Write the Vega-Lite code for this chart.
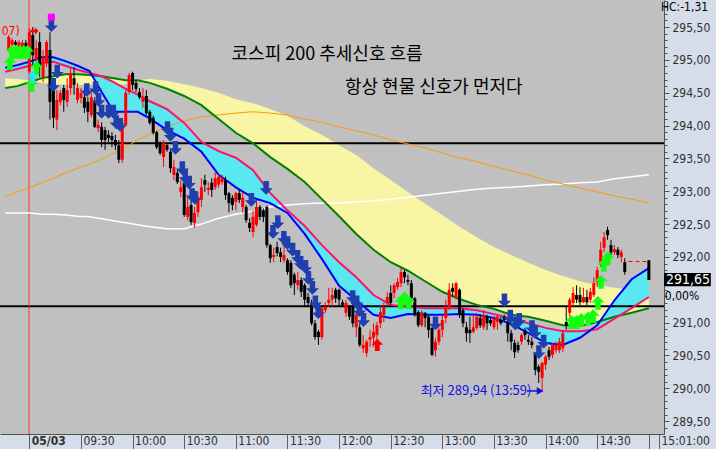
{
  "$schema": "https://vega.github.io/schema/vega-lite/v6.json",
  "width": 664,
  "height": 434,
  "autosize": {"type": "none"},
  "padding": {"left": 0, "top": 0, "right": 52, "bottom": 15},
  "background": "#d4dde9",
  "view": {"fill": "#c0c0c0", "stroke": null},
  "resolve": {"axis": {"y": "independent"}},
  "datasets": {
    "cd": [
      {"t":-12,"o":295.15,"h":295.38,"l":295.12,"c":295.35},
      {"t":-10,"o":295.23,"h":295.33,"l":295.18,"c":295.30},
      {"t":-8,"o":295.27,"h":295.30,"l":295.15,"c":295.23},
      {"t":-6,"o":295.18,"h":295.30,"l":295.12,"c":295.27},
      {"t":-4,"o":295.18,"h":295.30,"l":295.15,"c":295.26},
      {"t":-2,"o":295.26,"h":295.30,"l":295.12,"c":295.20},
      {"t":0,"o":294.82,"h":295.48,"l":294.77,"c":295.42},
      {"t":2,"o":295.38,"h":295.50,"l":294.92,"c":295.07},
      {"t":4,"o":295.00,"h":295.30,"l":294.92,"c":295.18},
      {"t":6,"o":295.27,"h":295.42,"l":294.74,"c":294.89},
      {"t":8,"o":294.74,"h":295.15,"l":294.66,"c":295.03},
      {"t":10,"o":294.95,"h":295.30,"l":294.89,"c":295.27},
      {"t":12,"o":295.15,"h":295.42,"l":294.09,"c":294.36},
      {"t":14,"o":294.62,"h":294.72,"l":293.96,"c":294.12},
      {"t":16,"o":294.09,"h":294.54,"l":293.93,"c":294.39},
      {"t":18,"o":294.36,"h":294.54,"l":294.31,"c":294.50},
      {"t":20,"o":294.57,"h":294.62,"l":294.21,"c":294.39},
      {"t":22,"o":294.36,"h":294.72,"l":294.28,"c":294.54},
      {"t":24,"o":294.57,"h":294.88,"l":294.47,"c":294.80},
      {"t":26,"o":294.72,"h":294.89,"l":294.47,"c":294.62},
      {"t":28,"o":294.39,"h":294.65,"l":294.34,"c":294.57},
      {"t":30,"o":294.42,"h":294.57,"l":294.34,"c":294.50},
      {"t":32,"o":294.43,"h":294.59,"l":294.19,"c":294.27},
      {"t":34,"o":294.36,"h":294.43,"l":294.05,"c":294.21},
      {"t":36,"o":294.16,"h":294.50,"l":294.12,"c":294.43},
      {"t":38,"o":294.36,"h":294.43,"l":293.96,"c":293.98},
      {"t":40,"o":293.96,"h":294.09,"l":293.90,"c":294.01},
      {"t":42,"o":293.98,"h":294.05,"l":293.67,"c":293.78},
      {"t":44,"o":293.93,"h":293.98,"l":293.63,"c":293.78},
      {"t":46,"o":293.86,"h":293.93,"l":293.75,"c":293.81},
      {"t":48,"o":293.84,"h":293.90,"l":293.67,"c":293.78},
      {"t":50,"o":293.78,"h":293.86,"l":293.63,"c":293.70},
      {"t":52,"o":293.70,"h":293.78,"l":293.43,"c":293.48},
      {"t":54,"o":293.48,"h":294.09,"l":293.43,"c":294.04},
      {"t":56,"o":294.01,"h":294.54,"l":293.98,"c":294.50},
      {"t":58,"o":294.51,"h":294.80,"l":294.47,"c":294.77},
      {"t":60,"o":294.80,"h":294.82,"l":294.54,"c":294.62},
      {"t":62,"o":294.65,"h":294.69,"l":294.51,"c":294.56},
      {"t":64,"o":294.51,"h":294.57,"l":294.40,"c":294.43},
      {"t":66,"o":294.36,"h":294.57,"l":294.27,"c":294.42},
      {"t":68,"o":294.45,"h":294.54,"l":294.16,"c":294.19},
      {"t":70,"o":294.21,"h":294.24,"l":294.01,"c":294.04},
      {"t":72,"o":294.12,"h":294.15,"l":293.86,"c":293.89},
      {"t":74,"o":293.90,"h":293.92,"l":293.64,"c":293.67},
      {"t":76,"o":293.73,"h":293.76,"l":293.55,"c":293.58},
      {"t":78,"o":293.52,"h":293.78,"l":293.37,"c":293.73},
      {"t":80,"o":293.70,"h":293.73,"l":293.60,"c":293.63},
      {"t":82,"o":293.60,"h":293.63,"l":293.28,"c":293.35},
      {"t":84,"o":293.25,"h":293.48,"l":293.17,"c":293.37},
      {"t":86,"o":293.28,"h":293.32,"l":293.11,"c":293.14},
      {"t":88,"o":292.99,"h":293.17,"l":292.91,"c":293.06},
      {"t":90,"o":293.13,"h":293.16,"l":292.61,"c":292.64},
      {"t":92,"o":292.61,"h":292.91,"l":292.56,"c":292.76},
      {"t":94,"o":292.79,"h":292.87,"l":292.49,"c":292.53},
      {"t":96,"o":292.52,"h":292.76,"l":292.44,"c":292.67},
      {"t":98,"o":292.68,"h":292.99,"l":292.61,"c":292.91},
      {"t":100,"o":292.87,"h":293.20,"l":292.76,"c":293.06},
      {"t":102,"o":293.17,"h":293.25,"l":292.99,"c":293.10},
      {"t":104,"o":293.02,"h":293.14,"l":292.94,"c":293.05},
      {"t":106,"o":293.13,"h":293.20,"l":292.91,"c":293.02},
      {"t":108,"o":293.06,"h":293.29,"l":293.02,"c":293.20},
      {"t":110,"o":293.10,"h":293.26,"l":293.05,"c":293.22},
      {"t":112,"o":293.14,"h":293.25,"l":293.10,"c":293.20},
      {"t":114,"o":293.17,"h":293.22,"l":292.87,"c":292.94},
      {"t":116,"o":292.97,"h":292.99,"l":292.68,"c":292.82},
      {"t":118,"o":292.90,"h":292.94,"l":292.71,"c":292.79},
      {"t":120,"o":292.84,"h":292.99,"l":292.71,"c":292.97},
      {"t":122,"o":292.97,"h":293.02,"l":292.82,"c":292.87},
      {"t":124,"o":292.76,"h":292.99,"l":292.67,"c":292.90},
      {"t":126,"o":292.76,"h":292.79,"l":292.52,"c":292.56},
      {"t":128,"o":292.52,"h":292.59,"l":292.38,"c":292.44},
      {"t":130,"o":292.38,"h":292.71,"l":292.30,"c":292.61},
      {"t":132,"o":292.49,"h":292.87,"l":292.46,"c":292.76},
      {"t":134,"o":292.76,"h":292.79,"l":292.56,"c":292.61},
      {"t":136,"o":292.71,"h":292.74,"l":292.53,"c":292.61},
      {"t":138,"o":292.76,"h":292.78,"l":292.14,"c":292.18},
      {"t":140,"o":292.18,"h":292.20,"l":291.91,"c":291.98},
      {"t":142,"o":292.00,"h":292.14,"l":291.92,"c":292.03},
      {"t":144,"o":292.15,"h":292.23,"l":292.01,"c":292.06},
      {"t":146,"o":292.07,"h":292.14,"l":291.92,"c":292.00},
      {"t":148,"o":291.95,"h":292.18,"l":291.91,"c":292.03},
      {"t":150,"o":291.95,"h":291.98,"l":291.73,"c":291.77},
      {"t":152,"o":291.91,"h":291.95,"l":291.53,"c":291.57},
      {"t":154,"o":291.73,"h":291.76,"l":291.42,"c":291.60},
      {"t":156,"o":291.57,"h":291.77,"l":291.50,"c":291.65},
      {"t":158,"o":291.65,"h":291.69,"l":291.39,"c":291.47},
      {"t":160,"o":291.57,"h":291.60,"l":291.24,"c":291.35},
      {"t":162,"o":291.39,"h":291.45,"l":291.24,"c":291.30},
      {"t":164,"o":291.30,"h":291.35,"l":290.96,"c":290.99},
      {"t":166,"o":290.99,"h":291.04,"l":290.74,"c":290.78},
      {"t":168,"o":290.86,"h":290.89,"l":290.66,"c":290.78},
      {"t":170,"o":290.78,"h":291.24,"l":290.74,"c":291.22},
      {"t":172,"o":291.19,"h":291.31,"l":291.15,"c":291.24},
      {"t":174,"o":291.30,"h":291.53,"l":291.24,"c":291.35},
      {"t":176,"o":291.35,"h":291.53,"l":291.24,"c":291.42},
      {"t":178,"o":291.50,"h":291.53,"l":291.30,"c":291.37},
      {"t":180,"o":291.50,"h":291.52,"l":291.24,"c":291.35},
      {"t":182,"o":291.31,"h":291.35,"l":291.24,"c":291.27},
      {"t":184,"o":291.15,"h":291.35,"l":291.09,"c":291.30},
      {"t":186,"o":291.24,"h":291.27,"l":291.04,"c":291.09},
      {"t":188,"o":291.24,"h":291.30,"l":290.93,"c":290.99},
      {"t":190,"o":290.93,"h":291.16,"l":290.78,"c":291.12},
      {"t":192,"o":290.93,"h":290.99,"l":290.63,"c":290.66},
      {"t":194,"o":290.61,"h":290.81,"l":290.54,"c":290.66},
      {"t":196,"o":290.54,"h":290.74,"l":290.48,"c":290.71},
      {"t":198,"o":290.74,"h":290.89,"l":290.63,"c":290.78},
      {"t":200,"o":290.77,"h":290.99,"l":290.63,"c":290.86},
      {"t":202,"o":290.81,"h":291.01,"l":290.69,"c":290.96},
      {"t":204,"o":290.99,"h":291.27,"l":290.92,"c":291.16},
      {"t":206,"o":291.12,"h":291.31,"l":291.01,"c":291.24},
      {"t":208,"o":291.30,"h":291.47,"l":291.24,"c":291.39},
      {"t":210,"o":291.45,"h":291.57,"l":291.27,"c":291.30},
      {"t":212,"o":291.45,"h":291.60,"l":291.37,"c":291.57},
      {"t":214,"o":291.54,"h":291.68,"l":291.50,"c":291.62},
      {"t":216,"o":291.60,"h":291.83,"l":291.54,"c":291.77},
      {"t":218,"o":291.77,"h":291.80,"l":291.60,"c":291.69},
      {"t":220,"o":291.65,"h":291.73,"l":291.57,"c":291.62},
      {"t":222,"o":291.60,"h":291.65,"l":291.35,"c":291.37},
      {"t":224,"o":291.37,"h":291.39,"l":291.09,"c":291.12},
      {"t":226,"o":291.16,"h":291.19,"l":290.93,"c":290.96},
      {"t":228,"o":290.96,"h":291.19,"l":290.93,"c":291.16},
      {"t":230,"o":291.15,"h":291.16,"l":290.93,"c":291.07},
      {"t":232,"o":291.09,"h":291.12,"l":290.77,"c":290.89},
      {"t":234,"o":290.92,"h":290.93,"l":290.49,"c":290.51},
      {"t":236,"o":290.58,"h":290.77,"l":290.48,"c":290.71},
      {"t":238,"o":290.71,"h":290.93,"l":290.66,"c":290.89},
      {"t":240,"o":290.89,"h":291.12,"l":290.78,"c":291.04},
      {"t":242,"o":291.07,"h":291.35,"l":290.99,"c":291.22},
      {"t":244,"o":291.24,"h":291.60,"l":291.19,"c":291.50},
      {"t":246,"o":291.53,"h":291.60,"l":291.39,"c":291.47},
      {"t":248,"o":291.39,"h":291.62,"l":291.35,"c":291.60},
      {"t":250,"o":291.50,"h":291.52,"l":291.07,"c":291.12},
      {"t":252,"o":291.19,"h":291.22,"l":290.93,"c":290.99},
      {"t":254,"o":290.93,"h":291.01,"l":290.71,"c":290.84},
      {"t":256,"o":290.89,"h":291.09,"l":290.69,"c":290.84},
      {"t":258,"o":290.86,"h":291.12,"l":290.84,"c":290.93},
      {"t":260,"o":290.92,"h":291.15,"l":290.89,"c":291.09},
      {"t":262,"o":291.07,"h":291.12,"l":290.92,"c":290.96},
      {"t":264,"o":290.93,"h":291.19,"l":290.89,"c":291.12},
      {"t":266,"o":291.09,"h":291.12,"l":290.89,"c":290.99},
      {"t":268,"o":291.04,"h":291.07,"l":290.95,"c":290.99},
      {"t":270,"o":290.93,"h":291.10,"l":290.89,"c":291.07},
      {"t":272,"o":291.01,"h":291.12,"l":290.89,"c":291.09},
      {"t":274,"o":291.04,"h":291.09,"l":290.96,"c":290.99},
      {"t":276,"o":291.09,"h":291.12,"l":291.01,"c":291.04},
      {"t":278,"o":291.01,"h":291.07,"l":290.71,"c":290.84},
      {"t":280,"o":290.84,"h":290.89,"l":290.58,"c":290.71},
      {"t":282,"o":290.69,"h":290.74,"l":290.46,"c":290.55},
      {"t":284,"o":290.66,"h":290.71,"l":290.54,"c":290.58},
      {"t":286,"o":290.71,"h":290.84,"l":290.66,"c":290.81},
      {"t":288,"o":290.89,"h":290.92,"l":290.74,"c":290.81},
      {"t":290,"o":290.74,"h":290.81,"l":290.66,"c":290.71},
      {"t":292,"o":290.71,"h":290.78,"l":290.61,"c":290.66},
      {"t":294,"o":290.54,"h":290.55,"l":290.20,"c":290.28},
      {"t":296,"o":290.33,"h":290.36,"l":290.08,"c":290.25},
      {"t":298,"o":290.16,"h":290.40,"l":289.94,"c":290.39},
      {"t":300,"o":290.36,"h":290.51,"l":290.28,"c":290.48},
      {"t":302,"o":290.58,"h":290.63,"l":290.43,"c":290.48},
      {"t":304,"o":290.51,"h":290.69,"l":290.46,"c":290.66},
      {"t":306,"o":290.58,"h":290.71,"l":290.54,"c":290.66},
      {"t":308,"o":290.58,"h":290.77,"l":290.54,"c":290.71},
      {"t":310,"o":290.61,"h":290.89,"l":290.55,"c":290.84},
      {"t":312,"o":291.01,"h":291.24,"l":290.89,"c":290.95},
      {"t":314,"o":291.15,"h":291.38,"l":291.09,"c":291.35},
      {"t":316,"o":291.30,"h":291.54,"l":291.24,"c":291.45},
      {"t":318,"o":291.42,"h":291.57,"l":291.30,"c":291.35},
      {"t":320,"o":291.42,"h":291.54,"l":291.27,"c":291.31},
      {"t":322,"o":291.31,"h":291.53,"l":291.30,"c":291.39},
      {"t":324,"o":291.39,"h":291.50,"l":291.27,"c":291.31},
      {"t":326,"o":291.35,"h":291.53,"l":291.30,"c":291.47},
      {"t":328,"o":291.42,"h":291.69,"l":291.39,"c":291.60},
      {"t":330,"o":291.62,"h":291.85,"l":291.54,"c":291.80},
      {"t":332,"o":291.91,"h":292.23,"l":291.85,"c":292.11},
      {"t":334,"o":292.14,"h":292.38,"l":292.07,"c":292.30},
      {"t":336,"o":292.41,"h":292.46,"l":292.26,"c":292.33},
      {"t":338,"o":292.18,"h":292.26,"l":291.98,"c":292.07},
      {"t":340,"o":292.07,"h":292.18,"l":292.03,"c":292.12},
      {"t":342,"o":292.11,"h":292.15,"l":291.98,"c":292.03},
      {"t":344,"o":292.00,"h":292.11,"l":291.92,"c":292.07},
      {"t":346,"o":291.92,"h":291.98,"l":291.73,"c":291.77},
      {"t":360,"o":291.95,"h":291.95,"l":291.65,"c":291.65}
    ],
    "ma": [
      {"t":-14,"blue":294.88,"pink":294.82,"green":294.57,"yel":294.72,"orange":292.91,"white":292.67},
      {"t":-7,"blue":294.92,"pink":294.86,"green":294.60,"yel":294.71,"orange":292.99,"white":292.67},
      {"t":0,"blue":294.97,"pink":294.91,"green":294.66,"yel":294.69,"orange":293.05,"white":292.67},
      {"t":7,"blue":295.04,"pink":294.95,"green":294.72,"yel":294.65,"orange":293.13,"white":292.65},
      {"t":14,"blue":295.04,"pink":294.97,"green":294.75,"yel":294.63,"orange":293.20,"white":292.65},
      {"t":21,"blue":294.98,"pink":294.91,"green":294.78,"yel":294.62,"orange":293.28,"white":292.64},
      {"t":28,"blue":294.91,"pink":294.85,"green":294.78,"yel":294.62,"orange":293.35,"white":292.62},
      {"t":35,"blue":294.83,"pink":294.80,"green":294.77,"yel":294.62,"orange":293.41,"white":292.61},
      {"t":42,"blue":294.51,"pink":294.75,"green":294.75,"yel":294.62,"orange":293.49,"white":292.58},
      {"t":49,"blue":294.21,"pink":294.66,"green":294.72,"yel":294.62,"orange":293.58,"white":292.55},
      {"t":56,"blue":294.21,"pink":294.56,"green":294.69,"yel":294.63,"orange":293.67,"white":292.52},
      {"t":63,"blue":294.21,"pink":294.47,"green":294.69,"yel":294.69,"orange":293.78,"white":292.49},
      {"t":70,"blue":294.11,"pink":294.37,"green":294.65,"yel":294.71,"orange":293.87,"white":292.46},
      {"t":80,"blue":293.93,"pink":294.25,"green":294.56,"yel":294.68,"orange":293.98,"white":292.43},
      {"t":90,"blue":293.80,"pink":294.04,"green":294.45,"yel":294.63,"orange":294.07,"white":292.43},
      {"t":100,"blue":293.60,"pink":293.75,"green":294.31,"yel":294.57,"orange":294.13,"white":292.50},
      {"t":110,"blue":293.25,"pink":293.61,"green":294.10,"yel":294.50,"orange":294.16,"white":292.59},
      {"t":120,"blue":293.06,"pink":293.51,"green":293.89,"yel":294.40,"orange":294.19,"white":292.65},
      {"t":130,"blue":292.90,"pink":293.32,"green":293.73,"yel":294.34,"orange":294.21,"white":292.70},
      {"t":140,"blue":292.82,"pink":292.97,"green":293.52,"yel":294.25,"orange":294.19,"white":292.76},
      {"t":150,"blue":292.67,"pink":292.71,"green":293.34,"yel":294.15,"orange":294.16,"white":292.79},
      {"t":160,"blue":292.35,"pink":292.47,"green":293.14,"yel":293.99,"orange":294.10,"white":292.81},
      {"t":170,"blue":291.97,"pink":292.18,"green":292.88,"yel":293.86,"orange":294.05,"white":292.82},
      {"t":180,"blue":291.56,"pink":291.92,"green":292.62,"yel":293.70,"orange":293.98,"white":292.82},
      {"t":190,"blue":291.34,"pink":291.69,"green":292.35,"yel":293.55,"orange":293.92,"white":292.84},
      {"t":200,"blue":291.12,"pink":291.42,"green":292.11,"yel":293.35,"orange":293.86,"white":292.85},
      {"t":210,"blue":291.07,"pink":291.27,"green":291.92,"yel":293.17,"orange":293.78,"white":292.88},
      {"t":220,"blue":291.13,"pink":291.24,"green":291.79,"yel":292.99,"orange":293.72,"white":292.91},
      {"t":230,"blue":291.12,"pink":291.22,"green":291.63,"yel":292.81,"orange":293.66,"white":292.94},
      {"t":240,"blue":291.12,"pink":291.22,"green":291.47,"yel":292.64,"orange":293.58,"white":292.97},
      {"t":250,"blue":291.13,"pink":291.22,"green":291.36,"yel":292.46,"orange":293.51,"white":293.00},
      {"t":260,"blue":291.12,"pink":291.19,"green":291.27,"yel":292.30,"orange":293.45,"white":293.03},
      {"t":270,"blue":291.07,"pink":291.13,"green":291.21,"yel":292.15,"orange":293.38,"white":293.05},
      {"t":280,"blue":290.98,"pink":291.06,"green":291.12,"yel":292.03,"orange":293.31,"white":293.06},
      {"t":290,"blue":290.84,"pink":290.99,"green":291.09,"yel":291.91,"orange":293.25,"white":293.08},
      {"t":300,"blue":290.69,"pink":290.92,"green":291.03,"yel":291.80,"orange":293.17,"white":293.10},
      {"t":310,"blue":290.66,"pink":290.87,"green":290.96,"yel":291.71,"orange":293.11,"white":293.11},
      {"t":320,"blue":290.77,"pink":290.87,"green":290.95,"yel":291.63,"orange":293.05,"white":293.13},
      {"t":330,"blue":290.96,"pink":290.90,"green":291.01,"yel":291.57,"orange":292.99,"white":293.14},
      {"t":340,"blue":291.34,"pink":291.06,"green":291.09,"yel":291.53,"orange":292.93,"white":293.19},
      {"t":350,"blue":291.66,"pink":291.22,"green":291.15,"yel":291.50,"orange":292.88,"white":293.22},
      {"t":360,"blue":291.83,"pink":291.39,"green":291.22,"yel":291.47,"orange":292.82,"white":293.25}
    ],
    "sell": [
      {"t":12.8,"p":295.53},{"t":16.2,"p":294.82},{"t":13.9,"p":294.62},{"t":33.4,"p":294.54},
      {"t":38.5,"p":294.57},{"t":40.2,"p":294.39},{"t":42.0,"p":294.21},{"t":46.0,"p":294.21},
      {"t":48.8,"p":294.21},{"t":50.5,"p":294.05},{"t":52.8,"p":294.01},{"t":80.3,"p":293.96},
      {"t":82.0,"p":293.86},{"t":84.9,"p":293.66},{"t":88.9,"p":293.35},{"t":90.6,"p":293.22},
      {"t":92.9,"p":293.13},{"t":94.6,"p":292.94},{"t":96.3,"p":292.90},{"t":129.0,"p":292.87},
      {"t":137.6,"p":293.05},{"t":141.6,"p":292.38},{"t":144.4,"p":292.53},{"t":147.9,"p":292.29},
      {"t":150.1,"p":292.21},{"t":153.0,"p":292.11},{"t":155.9,"p":292.00},{"t":157.6,"p":291.91},
      {"t":160.5,"p":291.85},{"t":162.2,"p":291.68},{"t":164.5,"p":291.53},{"t":166.2,"p":291.31},
      {"t":167.9,"p":291.16},{"t":187.9,"p":291.39},{"t":190.2,"p":291.31},{"t":191.9,"p":291.19},
      {"t":194.2,"p":291.04},{"t":236.0,"p":290.99},{"t":276.1,"p":291.34},{"t":279.5,"p":291.09},
      {"t":282.4,"p":290.99},{"t":284.7,"p":291.04},{"t":292.1,"p":290.93},{"t":293.9,"p":290.86},
      {"t":296.1,"p":290.55},{"t":298.9,"p":290.71}
    ],
    "buy": [
      {"t":-11.3,"p":294.95},{"t":-10.1,"p":295.12},{"t":-7.8,"p":295.12},{"t":-5.6,"p":295.12},
      {"t":-3.3,"p":295.12},{"t":-1.0,"p":295.12},{"t":4.2,"p":294.88},{"t":1.3,"p":294.62},
      {"t":215.8,"p":291.31},{"t":218.1,"p":291.37},{"t":220.4,"p":291.31},{"t":315.0,"p":291.01},
      {"t":318.0,"p":291.01},{"t":320.7,"p":291.04},{"t":324.7,"p":291.06},{"t":327.6,"p":291.10},
      {"t":330.4,"p":291.30},{"t":332.2,"p":291.62},{"t":333.9,"p":291.88},{"t":336.2,"p":291.98}
    ]
  },
  "encoding": {
    "x": {
      "field": "t", "type": "quantitative",
      "scale": {"domain": [-14.14, 365.9], "nice": false, "zero": false},
      "axis": {
        "title": null, "grid": false,
        "values": [0, 30, 60, 90, 120, 150, 180, 210, 240, 270, 300, 330, 360, 365.9],
        "labelExpr": "datum.value < 1 ? '05/03' : datum.value > 365 ? '15:01:00' : datum.value == 360 ? '' : ((floor(datum.value/60)+9) < 10 ? '0' : '') + (floor(datum.value/60)+9) + ':' + (datum.value % 60 == 0 ? '00' : '30')",
        "tickSize": 15, "tickColor": "#606060", "domainColor": "#505050",
        "labelAlign": "left", "labelBaseline": "top", "labelPadding": -14, "labelOffset": 2,
        "labelFont": "Liberation Sans Narrow, DejaVu Sans Condensed, Liberation Sans, sans-serif",
        "labelFontSize": 12, "labelColor": "#303030", "labelFlush": false, "labelOverlap": false,
        "labelFontWeight": {"condition": {"test": "datum.value < 1", "value": "bold"}, "value": "normal"}
      }
    }
  },
  "layer": [
    {
      "data": {"name": "ma"},
      "mark": {"type": "area", "color": "#f8f6a4", "opacity": 1},
      "encoding": {
        "y": {
          "field": "green", "type": "quantitative",
          "scale": {"domain": [289.305, 295.911], "nice": false, "zero": false},
          "axis": {
            "orient": "right", "title": null, "grid": false,
            "values": [289.5,290,290.5,291,292,292.5,293,293.5,294,294.5,295,295.5],
            "labelExpr": "replace(format(datum.value, '.2f'), '.', ',')",
            "tickSize": 5, "tickColor": "#505050", "domainColor": "#505050",
            "labelPadding": 3, "labelFontSize": 12, "labelColor": "#303030",
            "labelFont": "Liberation Sans Narrow, DejaVu Sans Condensed, Liberation Sans, sans-serif",
            "labelOverlap": false, "labelFlush": false, "labelBaseline": "middle"
          }
        },
        "y2": {"field": "yel"}
      }
    },
    {
      "data": {"name": "ma"},
      "mark": {"type": "area", "color": "#5ae8f0", "opacity": 1},
      "encoding": {
        "y": {
          "field": "blue", "type": "quantitative",
          "axis": {
            "orient": "right", "title": null, "grid": false, "labels": false, "domain": false,
            "values": [289.4,289.6,289.7,289.8,289.9,290.1,290.2,290.3,290.4,290.6,290.7,290.8,290.9,291.1,291.2,291.3,291.4,291.5,291.6,291.7,291.8,291.9,292.1,292.2,292.3,292.4,292.6,292.7,292.8,292.9,293.1,293.2,293.3,293.4,293.6,293.7,293.8,293.9,294.1,294.2,294.3,294.4,294.6,294.7,294.8,294.9,295.1,295.2,295.3,295.4,295.6,295.7,295.8,295.9],
            "tickSize": 3, "tickColor": "#505050"
          }
        },
        "y2": {"field": "pink"}
      }
    },
    {
      "data": {"values": [{"p": 293.73}, {"p": 291.25}]},
      "mark": {"type": "rule", "color": "#000000", "strokeWidth": 2},
      "encoding": {"y": {"field": "p", "type": "quantitative", "axis": null}, "x": null}
    },
    {
      "data": {"values": [{"t": -0.2}]},
      "mark": {"type": "rule", "color": "#ff3030", "strokeWidth": 1},
      "encoding": {}
    },
    {
      "data": {"name": "ma"},
      "mark": {"type": "line", "color": "#ffffff", "strokeWidth": 1.5},
      "encoding": {"y": {"field": "white", "type": "quantitative", "axis": null}}
    },
    {
      "data": {"name": "ma"},
      "mark": {"type": "line", "color": "#ff9a00", "strokeWidth": 1},
      "encoding": {"y": {"field": "orange", "type": "quantitative", "axis": null}}
    },
    {
      "data": {"name": "ma"},
      "mark": {"type": "line", "color": "#008000", "strokeWidth": 2},
      "encoding": {"y": {"field": "green", "type": "quantitative", "axis": null}}
    },
    {
      "data": {"name": "ma"},
      "mark": {"type": "line", "color": "#ff1070", "strokeWidth": 2},
      "encoding": {"y": {"field": "pink", "type": "quantitative", "axis": null}}
    },
    {
      "data": {"name": "ma"},
      "mark": {"type": "line", "color": "#0000ff", "strokeWidth": 2},
      "encoding": {"y": {"field": "blue", "type": "quantitative", "axis": null}}
    },
    {
      "data": {"values": [{"t": 348.2, "t2": 358.5, "p": 291.93}]},
      "mark": {"type": "rule", "color": "#ff0000", "strokeWidth": 1, "strokeDash": [4, 3]},
      "encoding": {"x2": {"field": "t2"}, "y": {"field": "p", "type": "quantitative", "axis": null}}
    },
    {
      "data": {"name": "cd"},
      "mark": {"type": "rule", "strokeWidth": 1},
      "encoding": {
        "y": {"field": "l", "type": "quantitative", "axis": null},
        "y2": {"field": "h"},
        "color": {"condition": {"test": "datum.c > datum.o", "value": "#ff0000"}, "value": "#000000"}
      }
    },
    {
      "data": {"name": "cd"},
      "mark": {"type": "bar", "size": 3},
      "encoding": {
        "y": {"field": "o", "type": "quantitative", "axis": null},
        "y2": {"field": "c"},
        "color": {"condition": {"test": "datum.c > datum.o", "value": "#ff0000"}, "value": "#000000"}
      }
    },
    {
      "data": {"name": "sell"},
      "mark": {"type": "point", "filled": true, "opacity": 1, "color": "#1f3fae", "size": 190,
               "shape": "M-0.4,-1L0.4,-1L0.4,0.05L0.95,0.05L0,1L-0.95,0.05L-0.4,0.05Z"},
      "encoding": {"y": {"field": "p", "type": "quantitative", "axis": null}}
    },
    {
      "data": {"name": "buy"},
      "mark": {"type": "point", "filled": true, "opacity": 1, "color": "#10ff10", "size": 190,
               "shape": "M-0.4,1L0.4,1L0.4,-0.05L0.95,-0.05L0,-1L-0.95,-0.05L-0.4,-0.05Z"},
      "encoding": {"y": {"field": "p", "type": "quantitative", "axis": null}}
    },
    {
      "data": {"values": [{"t": 1.9, "p": 294.74, "k": "cyan"}, {"t": 202.2, "p": 290.66, "k": "red"}]},
      "mark": {"type": "point", "filled": true, "opacity": 1, "size": 150,
               "shape": "M-0.4,1L0.4,1L0.4,-0.05L0.95,-0.05L0,-1L-0.95,-0.05L-0.4,-0.05Z"},
      "encoding": {
        "y": {"field": "p", "type": "quantitative", "axis": null},
        "color": {"condition": {"test": "datum.k == 'cyan'", "value": "#20e8f0"}, "value": "#ff0000"}
      }
    },
    {
      "data": {"values": [{"t": 3.0, "p": 295.44}]},
      "mark": {"type": "point", "filled": true, "opacity": 1, "size": 70, "color": "#ff0000",
               "shape": "M-1,-0.3L0.1,-0.3L0.1,-0.9L1,0L0.1,0.9L0.1,0.3L-1,0.3Z"},
      "encoding": {"y": {"field": "p", "type": "quantitative", "axis": null}}
    },
    {
      "data": {"values": [{"t": 12.8, "p": 295.65}]},
      "mark": {"type": "square", "filled": true, "opacity": 1, "size": 50, "color": "#ff00ff"},
      "encoding": {"y": {"field": "p", "type": "quantitative", "axis": null}}
    },
    {
      "data": {"values": [{"t": -5.6, "p": 295.44, "s": "07)"}]},
      "mark": {"type": "text", "align": "right", "baseline": "middle", "fontSize": 12, "color": "#ff0000",
               "font": "Liberation Sans Narrow, DejaVu Sans Condensed, Liberation Sans, sans-serif"},
      "encoding": {"y": {"field": "p", "type": "quantitative", "axis": null}, "text": {"field": "s"}}
    },
    {
      "data": {"values": [
        {"t": 117.5, "p": 295.07, "s": "코스피 200 추세신호 흐름"},
        {"t": 183.4, "p": 294.57, "s": "항상 현물 신호가 먼저다"}
      ]},
      "mark": {"type": "text", "align": "left", "baseline": "middle", "fontSize": 18, "color": "#000000",
               "font": "Noto Sans CJK KR"},
      "encoding": {"y": {"field": "p", "type": "quantitative", "axis": null}, "text": {"field": "s"}}
    },
    {
      "data": {"values": [{"t": 227.4, "p": 289.96, "s": "최저 289,94 (13:59)"}]},
      "mark": {"type": "text", "align": "left", "baseline": "middle", "fontSize": 13, "color": "#1010e0",
               "font": "Noto Sans CJK KR"},
      "encoding": {"y": {"field": "p", "type": "quantitative", "axis": null}, "text": {"field": "s"}}
    },
    {
      "data": {"values": [{"t": 289.2, "t2": 296.0, "p": 289.96}]},
      "mark": {"type": "rule", "color": "#1010e0", "strokeWidth": 1.5},
      "encoding": {"x2": {"field": "t2"}, "y": {"field": "p", "type": "quantitative", "axis": null}}
    },
    {
      "data": {"values": [{"t": 296.8, "p": 289.96}]},
      "mark": {"type": "point", "filled": true, "opacity": 1, "size": 60, "color": "#1010e0", "shape": "triangle-right"},
      "encoding": {"y": {"field": "p", "type": "quantitative", "axis": null}}
    },
    {
      "data": {"values": [{"t": 368.8, "t2": 396.0, "p": 291.755, "p2": 291.555}]},
      "mark": {"type": "rect", "color": "#000000"},
      "encoding": {"x2": {"field": "t2"}, "y": {"field": "p", "type": "quantitative", "axis": null}, "y2": {"field": "p2"}}
    },
    {
      "data": {"values": [
        {"t": 370.0, "p": 291.655, "s": "291,65", "k": "w", "f": 14},
        {"t": 369.3, "p": 291.41, "s": "0,00%", "k": "b", "f": 12},
        {"t": 367.0, "p": 295.80, "s": "HC:-1,31", "k": "b", "f": 12}
      ]},
      "mark": {"type": "text", "align": "left", "baseline": "middle",
               "font": "Liberation Sans Narrow, DejaVu Sans Condensed, Liberation Sans, sans-serif"},
      "encoding": {
        "y": {"field": "p", "type": "quantitative", "axis": null},
        "text": {"field": "s"},
        "size": {"condition": {"test": "datum.k == 'w'", "value": 14}, "value": 12},
        "color": {"condition": {"test": "datum.k == 'w'", "value": "#ffffff"}, "value": "#000000"}
      }
    }
  ]
}
